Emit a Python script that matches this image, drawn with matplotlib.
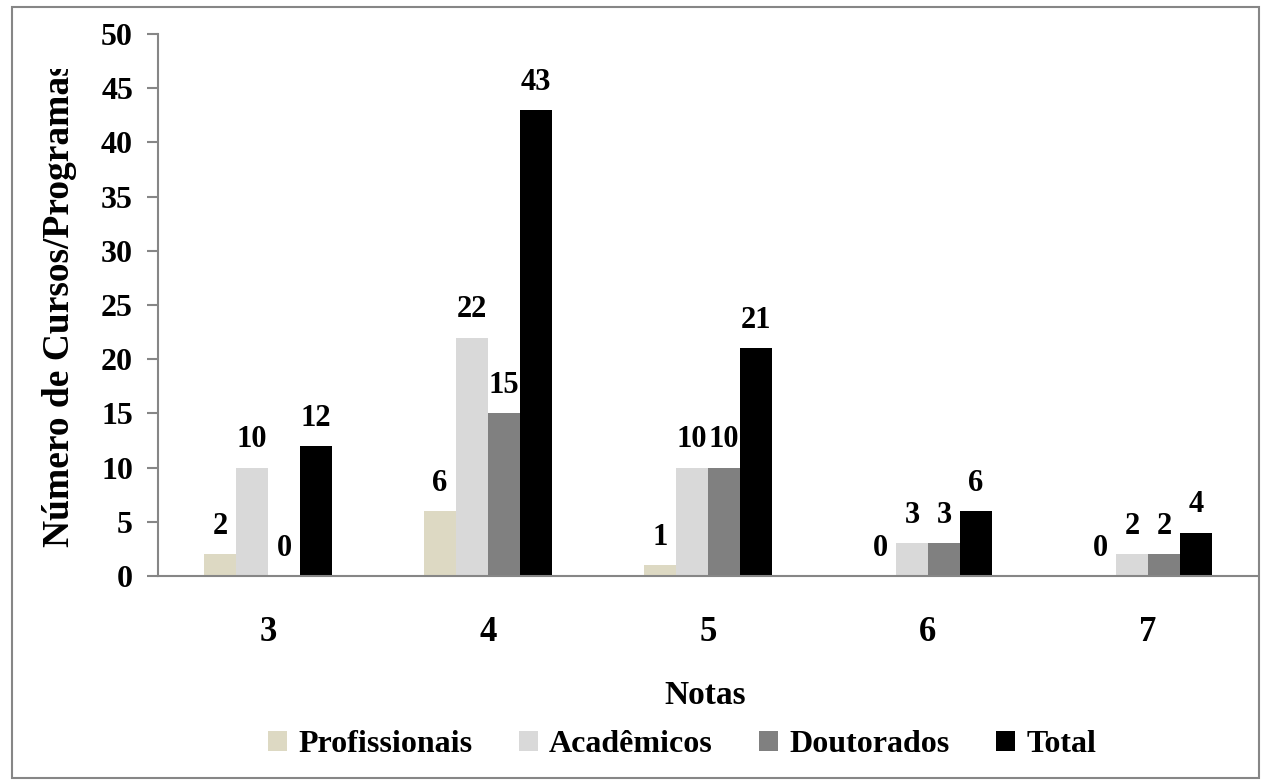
import matplotlib.pyplot as plt
import numpy as np
from matplotlib.patches import Rectangle, Patch
from matplotlib.transforms import Bbox

plt.rcParams['font.family'] = ['Liberation Serif', 'DejaVu Serif']
plt.rcParams['font.weight'] = 'bold'

# -------------------------------------------------
# data
# -------------------------------------------------
notas = ['3', '4', '5', '6', '7']
profissionais = [2, 6, 1, 0, 0]
academicos = [10, 22, 10, 3, 2]
doutorados = [0, 15, 10, 3, 2]
total = [12, 43, 21, 6, 4]

series = [
    ('Profissionais', profissionais, '#ddd9c3'),
    ('Acadêmicos', academicos, '#d9d9d9'),
    ('Doutorados', doutorados, '#808080'),
    ('Total', total, '#000000'),
]

W, H = 1265, 781
fig = plt.figure(figsize=(W / 100, H / 100), dpi=100)

# outer frame of the chart area
fig.patches.append(Rectangle((12 / W, 3 / H), 1247 / W, 771 / H,
                             transform=fig.transFigure, fill=False,
                             edgecolor='#868686', linewidth=1.5))

ax = fig.add_axes([158 / W, (H - 576) / H, 1100 / W, 542 / H])

x = np.arange(len(notas))
w = 0.1455

for i, (name, vals, col) in enumerate(series):
    pos = x + (i - 1.5) * w
    ax.bar(pos, vals, width=w, color=col, label=name)
    for p, v in zip(pos, vals):
        ax.annotate(str(v), (p, v), xytext=(0, 9.5), textcoords='offset points',
                    ha='center', va='bottom', fontsize=22, fontweight='bold')

ax.set_xlim(-0.5, 4.5)
ax.set_ylim(0, 50)
ax.set_yticks(range(0, 51, 5))
ax.set_xticks(x)
ax.set_xticklabels(notas)

for s in ['top', 'right']:
    ax.spines[s].set_visible(False)
for s in ['left', 'bottom']:
    ax.spines[s].set_color('#868686')
    ax.spines[s].set_linewidth(1.5)

ax.tick_params(axis='y', direction='out', length=8, width=1.5, color='#868686',
               labelsize=23, pad=10)
ax.tick_params(axis='x', length=0, labelsize=25, pad=29)

fig.text(705 / W, (H - 695) / H, 'Notas', ha='center', va='center',
         fontsize=24, fontweight='bold')

# y label is cut at the top like in the original
yl = fig.text(60 / W, (H - 547) / H, 'Número de Cursos/Programas', rotation=90,
              ha='center', va='bottom', fontsize=27, fontweight='bold')
yl.set_clip_on(True)
yl.set_clip_box(Bbox.from_extents(0, 0, W, H - 69))

handles = [Patch(facecolor=c, label=n) for n, _, c in series]
fig.legend(handles=handles, loc='center', bbox_to_anchor=(682 / W, (H - 745) / H),
           ncol=4, frameon=False, handlelength=0.6, handleheight=0.6,
           handletextpad=0.35, columnspacing=1.45, prop={'weight': 'bold', 'size': 23})

fig.savefig('out.png', dpi=100)
